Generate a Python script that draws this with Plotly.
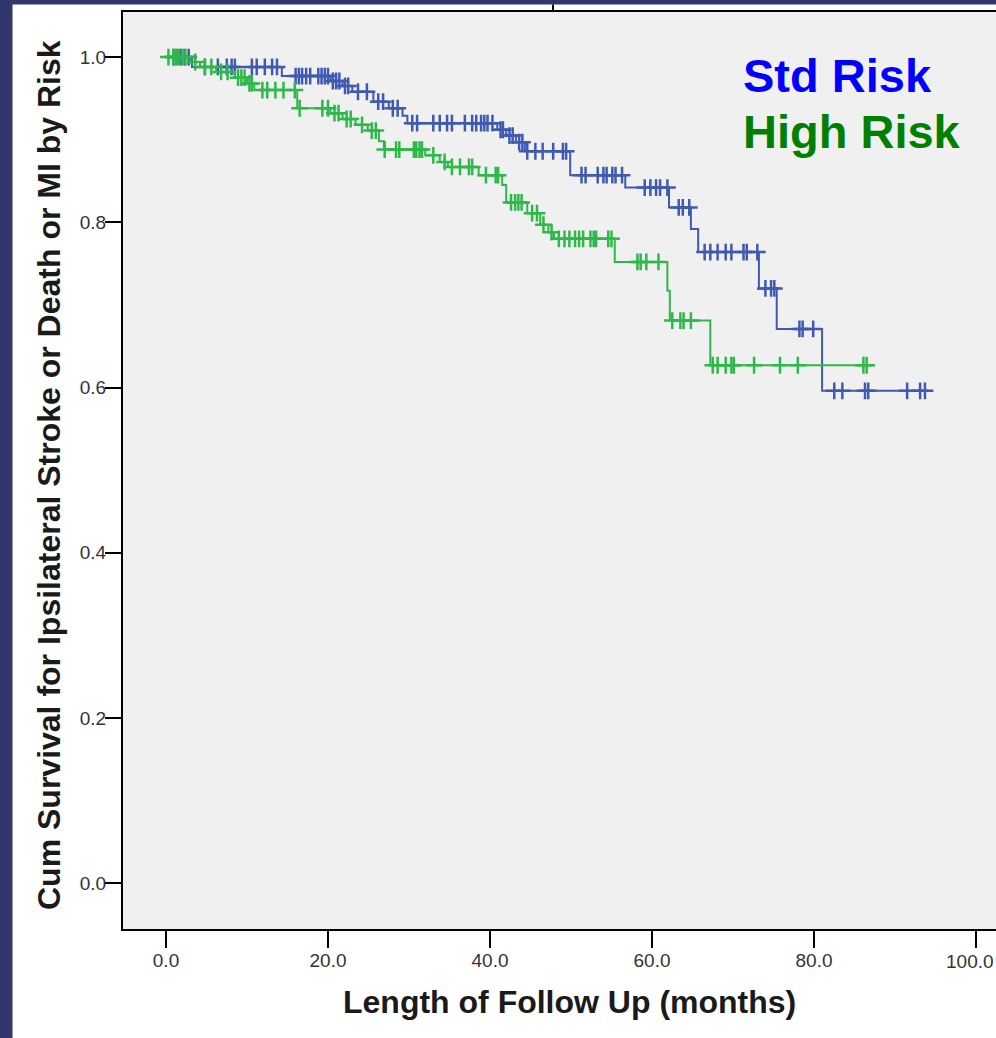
import numpy as np
import plotly.graph_objects as go

# ---------------- data ----------------
std_event_t = [0, 3.2, 14.3, 20.3, 21.8, 23.0, 25.6, 27.5, 29.2, 29.8, 40.9, 42.0, 43.2,
               44.3, 49.9, 56.7, 62.1, 64.8, 65.7, 73.2, 75.4, 81.0]
std_event_s = [1.0, 0.988, 0.977, 0.971, 0.965, 0.958, 0.946, 0.938, 0.929, 0.920, 0.912,
               0.905, 0.897, 0.886, 0.857, 0.842, 0.818, 0.792, 0.764, 0.720, 0.671, 0.596]
std_censor_t = [0.9, 1.3, 1.8, 2.3, 2.8, 4.8, 6.4, 7.5, 8.1, 8.5, 10.6, 11.2, 12.2, 13.1,
                13.7, 16.0, 16.4, 16.8, 17.3, 17.8, 18.8, 19.2, 19.6, 20.0, 20.6, 21.0,
                21.4, 22.1, 22.5, 23.7, 24.8, 26.2, 26.8, 28.0, 28.6, 30.4, 31.0, 33.0,
                33.8, 34.7, 35.3, 36.9, 37.8, 38.3, 38.9, 39.3, 39.7, 40.3, 41.3, 41.6,
                42.4, 42.8, 43.6, 44.0, 44.6, 45.6, 46.5, 47.8, 49.0, 49.4, 51.3, 51.8,
                53.3, 54.0, 54.4, 55.1, 55.5, 56.3, 59.1, 59.8, 60.5, 61.0, 61.9, 63.3,
                63.8, 64.6, 66.5, 67.2, 68.1, 69.1, 69.8, 71.3, 71.7, 73.0, 74.0, 74.7,
                75.1, 78.2, 78.6, 79.9, 82.5, 83.5, 86.3, 86.7, 91.5, 93.1, 93.7]

high_event_t = [0, 3.0, 4.2, 6.2, 8.5, 10.0, 10.9, 16.2, 20.3, 21.8, 23.4, 24.9, 26.3, 26.9,
                32.0, 33.8, 34.8, 38.6, 41.5, 42.0, 44.6, 46.2, 47.2, 47.9, 55.4, 61.9,
                62.2, 67.2]
high_event_s = [1.0, 0.994, 0.988, 0.982, 0.975, 0.968, 0.960, 0.938, 0.932, 0.925, 0.918,
                0.911, 0.898, 0.888, 0.881, 0.873, 0.867, 0.857, 0.845, 0.824, 0.811,
                0.797, 0.788, 0.780, 0.752, 0.717, 0.681, 0.627]
high_censor_t = [0.3, 0.9, 1.2, 1.6, 2.0, 2.4, 3.6, 4.8, 5.6, 6.8, 7.6, 8.9, 9.3, 9.7, 10.3,
                 10.6, 11.9, 12.5, 13.5, 14.5, 15.9, 16.5, 19.3, 20.0, 20.8, 21.3, 22.3,
                 22.8, 24.2, 25.4, 25.9, 27.0, 28.4, 28.8, 30.6, 30.9, 31.3, 31.6, 33.0,
                 34.4, 35.3, 36.3, 37.4, 37.8, 39.5, 40.7, 41.0, 42.6, 43.1, 43.5, 43.9,
                 45.2, 45.8, 46.6, 47.6, 48.5, 49.2, 49.8, 50.5, 51.0, 51.5, 52.4, 52.8,
                 53.1, 54.6, 55.0, 58.2, 58.6, 59.3, 60.8, 62.5, 63.5, 63.9, 64.8, 67.5,
                 68.1, 69.1, 69.8, 70.1, 72.6, 75.8, 78.0, 86.1, 86.5]

x_tick_vals = [0, 20, 40, 60, 80, 100]
x_tick_text = ["0.0", "20.0", "40.0", "60.0", "80.0", "100.0"]
y_tick_vals = [0.0, 0.2, 0.4, 0.6, 0.8, 1.0]
y_tick_text = ["0.0", "0.2", "0.4", "0.6", "0.8", "1.0"]

series_names = ["Std Risk", "High Risk"]
line_colors = ["#3f5ab0", "#2fb84a"]
label_colors = ["#0000ff", "#008000"]


def step_value(ev_t, ev_s, t):
    idx = np.searchsorted(np.asarray(ev_t), np.asarray(t), side="right") - 1
    return np.asarray(ev_s)[idx]


fig = go.Figure()

for ev_t, ev_s, cen_t, name, col in [
    (std_event_t, std_event_s, std_censor_t, series_names[0], line_colors[0]),
    (high_event_t, high_event_s, high_censor_t, series_names[1], line_colors[1]),
]:
    last_t = max(cen_t)
    lx = list(ev_t) + [last_t]
    ly = list(ev_s) + [float(step_value(ev_t, ev_s, last_t))]
    fig.add_trace(go.Scatter(x=lx, y=ly, mode="lines", line=dict(shape="hv", color=col, width=2),
                             name=name, showlegend=False, hoverinfo="skip"))
    fig.add_trace(go.Scatter(x=cen_t, y=step_value(ev_t, ev_s, cen_t), mode="markers",
                             marker=dict(symbol="cross-thin", size=12,
                                         line=dict(color=col, width=2.5)),
                             name=name + " censored", showlegend=False))

W, H = 996, 1038
L, T, B = 123, 12, 109
plot_h = H - T - B
plot_w = W - L


def px_to_paper_x(px):
    return (px - L) / plot_w


def py_to_paper_y(py):
    return (H - B - py) / plot_h


title_font = dict(family="Liberation Sans, Arial, sans-serif", size=32, color="#1a1a1a", weight="bold")
tick_font = dict(family="Liberation Sans, Arial, sans-serif", size=19, color="#333333")

# last x tick label sits at the window edge: place it as right-anchored text so it never overflows
axis_tick_text = x_tick_text[:-1] + [""]

fig.update_layout(
    width=W, height=H,
    margin=dict(l=L, r=0, t=T, b=B, pad=0),
    paper_bgcolor="white",
    plot_bgcolor="#f0f0f0",
    showlegend=False,
    xaxis=dict(range=[-5.31, 102.47], tickvals=x_tick_vals, ticktext=axis_tick_text,
               showgrid=False, zeroline=False, showline=True, linecolor="black", linewidth=2,
               mirror=True, ticks="outside", ticklen=17, tickwidth=2, tickcolor="black",
               tickfont=tick_font, ticklabelstandoff=-4),
    yaxis=dict(range=[-0.0553, 1.0545], tickvals=y_tick_vals, ticktext=y_tick_text,
               showgrid=False, zeroline=False, showline=True, linecolor="black", linewidth=2,
               mirror=False, ticks="outside", ticklen=16, tickwidth=2, tickcolor="black",
               tickfont=tick_font, ticklabelstandoff=-5),
    annotations=[
        dict(text=x_tick_text[-1], xref="paper", yref="paper", x=1.0,
             y=py_to_paper_y(961), xanchor="right", yanchor="middle", showarrow=False,
             font=tick_font),
        dict(text="Length of Follow Up (months)", xref="paper", yref="paper",
             x=px_to_paper_x(569), y=py_to_paper_y(1002), xanchor="center", yanchor="middle",
             showarrow=False, font=title_font),
        dict(text="Cum Survival for Ipsilateral Stroke or Death or MI by Risk", xref="paper",
             yref="paper", x=px_to_paper_x(49), y=py_to_paper_y(475), xanchor="center",
             yanchor="middle", textangle=-90, showarrow=False, font=title_font),
        dict(text=series_names[0], xref="paper", yref="paper", x=px_to_paper_x(741),
             y=py_to_paper_y(75), xanchor="left", yanchor="middle", showarrow=False,
             font=dict(family="Liberation Sans, Arial, sans-serif", size=47, color=label_colors[0], weight="bold")),
        dict(text=series_names[1], xref="paper", yref="paper", x=px_to_paper_x(741),
             y=py_to_paper_y(131), xanchor="left", yanchor="middle", showarrow=False,
             font=dict(family="Liberation Sans, Arial, sans-serif", size=47, color=label_colors[1], weight="bold")),
    ],
    shapes=[
        dict(type="rect", xref="paper", yref="paper", x0=px_to_paper_x(0), x1=px_to_paper_x(12.5),
             y0=py_to_paper_y(H), y1=py_to_paper_y(0), fillcolor="#30366b", line=dict(width=0)),
        dict(type="rect", xref="paper", yref="paper", x0=px_to_paper_x(0), x1=px_to_paper_x(W),
             y0=py_to_paper_y(4.5), y1=py_to_paper_y(0), fillcolor="#30366b", line=dict(width=0)),
        dict(type="line", xref="paper", yref="paper", x0=px_to_paper_x(553), x1=px_to_paper_x(553),
             y0=py_to_paper_y(11), y1=py_to_paper_y(4.5), line=dict(color="black", width=2)),
    ],
)

fig.write_html("out.html", config={"displayModeBar": False},
               post_script="document.body.style.margin='0';")
